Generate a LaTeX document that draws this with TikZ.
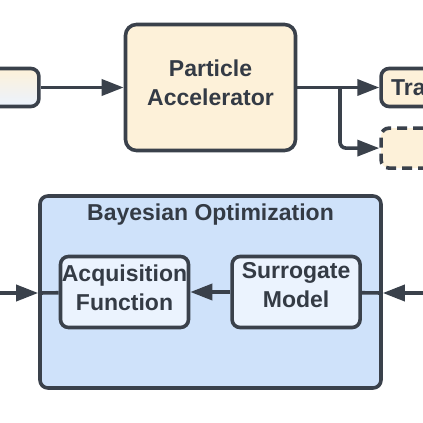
\documentclass[tikz,border=0pt]{standalone}
\usepackage{fontspec}
\setmainfont{Liberation Sans}
\usetikzlibrary{positioning, arrows.meta, shapes, calc, fit}
\definecolor{linegray}{HTML}{3A414B}
\definecolor{textdark}{HTML}{343B45}
\definecolor{cream}{HTML}{FDF1D9}
\definecolor{boblue}{HTML}{CFE2FA}
\definecolor{paleblue}{HTML}{EBF3FE}

\begin{document}
\begin{tikzpicture}[x=1pt, y=-1pt, font=\fontsize{23}{29}\selectfont\bfseries, text=textdark,
	block/.style={draw=linegray, line width=3.6pt, rounded corners=8pt, align=center, fill=cream, inner sep=0pt},
	bigblock/.style={block, rounded corners=11pt, minimum width=170pt, minimum height=126pt},
	innerblock/.style={block, fill=paleblue, minimum width=128pt, minimum height=71pt},
	label text/.style={align=center, inner sep=0pt},
	arrow/.style={-{Triangle[length=22pt, width=16pt]}, line width=3.6pt, draw=linegray},
	line/.style={line width=3.6pt, draw=linegray}]

	\useasboundingbox (0,0) rectangle (423,423);
	\clip (0,0) rectangle (423,423);

	% Fila superior
	\node[bigblock] (accel) at (210.5,87.5) {};
	\node[label text] (acceltext) at ([yshift=4.5pt]accel.center) {Particle\\Accelerator};
	\node[block, left=83pt of accel, minimum width=120pt, minimum height=38pt,
		top color=cream, bottom color=paleblue] (source) {};
	\node[block, right=82pt of accel, minimum height=38pt, text width=110pt, align=left,
		inner xsep=10pt] (tra) {Tra};
	\node[block, dash pattern=on 10pt off 6pt, below=18pt of tra, minimum height=40pt,
		minimum width=130pt] (extra) {};

	\draw[arrow] (source) -- (accel);
	\draw[arrow] (accel) -- (tra);
	\coordinate (split) at (340,87.5);
	\draw[arrow, rounded corners=6pt] (split) |- (extra);

	% Bayesian Optimization
	\node[block, fill=boblue, minimum width=341pt, minimum height=192pt] (bo) at (210.5,292) {};
	\node[below=6pt of bo.north] (botitle) {Bayesian Optimization};
	\node[innerblock] (acq) at (124.5,292) {};
	\node[innerblock, right=40pt of acq] (sur) {};

	\draw[arrow] (sur) -- (acq);
	\coordinate (inL) at (-10,293);
	\coordinate (inR) at (433,293);
	\draw[arrow] (inL) -- (inL -| bo.west);
	\draw[line] (inL -| bo.west) -- (acq);
	\draw[arrow] (inR) -- (inR -| bo.east);
	\draw[line] (inR -| bo.east) -- (sur);

	\node[label text] (acqtext) at ([yshift=4pt]acq.center) {Acquisition\\Function};
	\node[label text] (surtext) at ([yshift=6.5pt]sur.center) {Surrogate\\Model};
\end{tikzpicture}
\end{document}
